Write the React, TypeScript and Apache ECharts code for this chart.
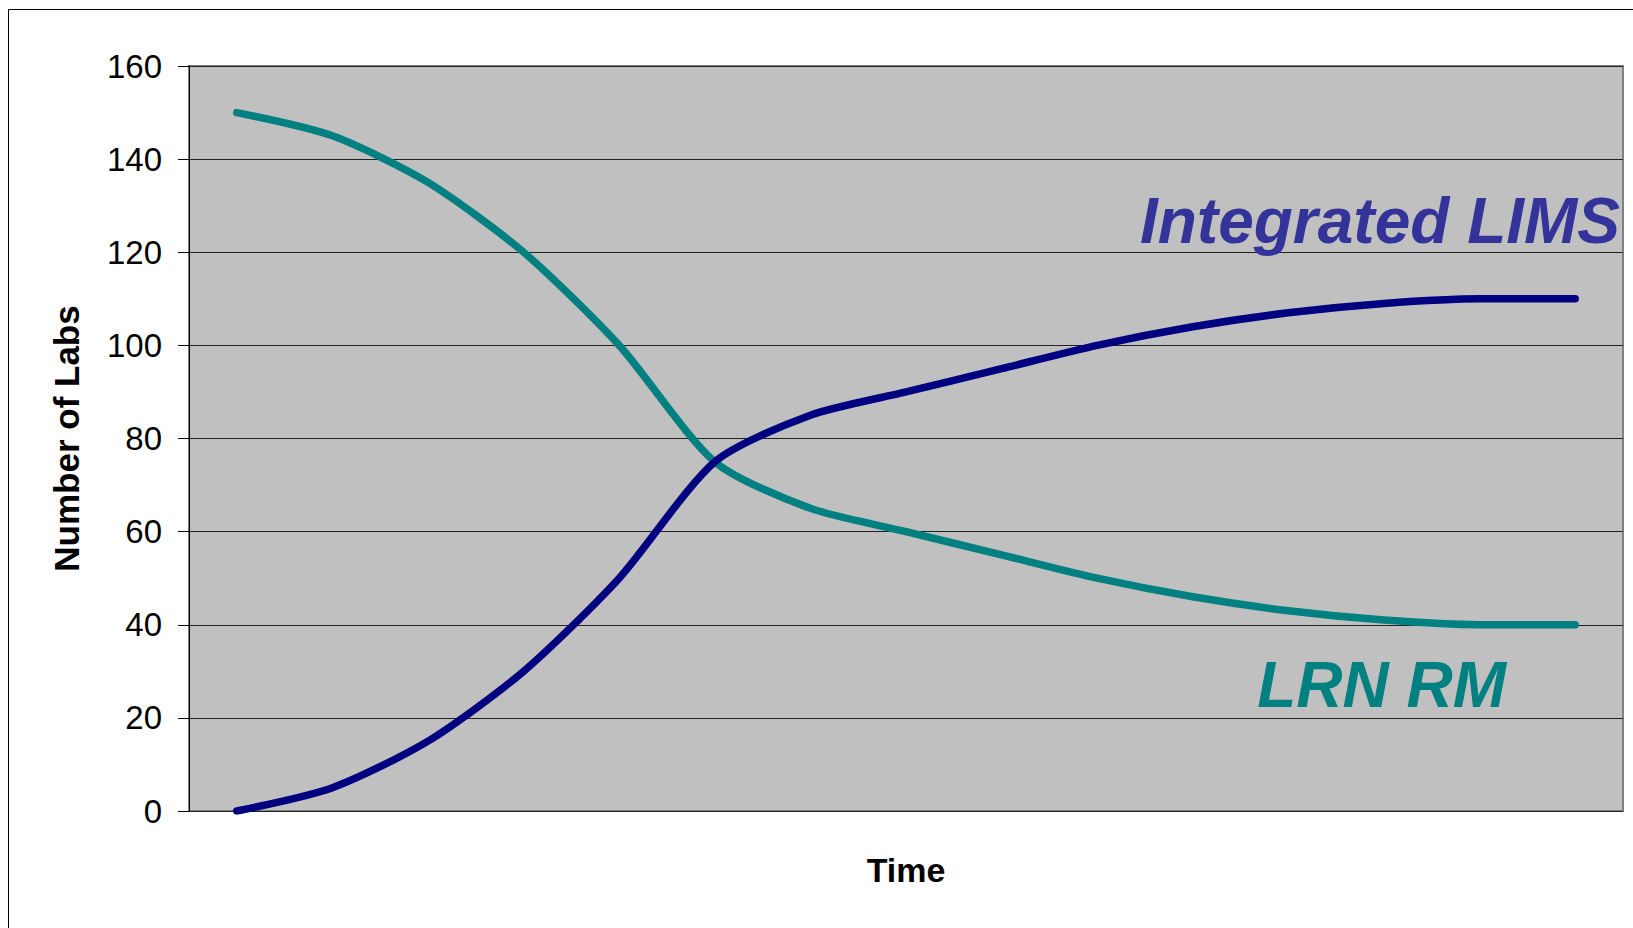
import React, { useEffect, useRef } from "react";
import * as echarts from "echarts";

const categories = ["T1", "T2", "T3", "T4", "T5", "T6", "T7", "T8", "T9", "T10", "T11", "T12", "T13", "T14", "T15"];
const integratedLims = [0, 5, 15, 30, 50, 75, 85, 90, 95, 100, 104, 107, 109, 110, 110];
const lrnRm = [150, 145, 135, 120, 100, 75, 65, 60, 55, 50, 46, 43, 41, 40, 40];
const yMin = 0;
const yMax = 160;
const yInterval = 20;

const FONT = "'Liberation Sans', Arial, sans-serif";

export default function App() {
  const ref = useRef<HTMLDivElement>(null);
  useEffect(() => {
    if (!ref.current) return;
    const chart = echarts.init(ref.current, null, { renderer: "svg" });
    chart.setOption({
      animation: false,
      backgroundColor: "#ffffff",
      grid: {
        left: 189,
        top: 66,
        right: 10,
        bottom: 117,
        show: true,
        backgroundColor: "#C0C0C0",
        borderColor: "#808080",
        borderWidth: 2,
      },
      xAxis: {
        type: "category",
        data: categories,
        boundaryGap: true,
        axisLine: { show: false },
        axisTick: { show: false },
        axisLabel: { show: false },
        splitLine: { show: false },
        name: "Time",
        nameLocation: "middle",
        nameGap: 42,
        nameTextStyle: { fontFamily: FONT, fontSize: 34, fontWeight: "bold", color: "#000" },
      },
      yAxis: {
        type: "value",
        min: yMin,
        max: yMax,
        interval: yInterval,
        axisLine: { show: true, lineStyle: { color: "#000", width: 1 } },
        axisTick: { show: true, length: 11, lineStyle: { color: "#000", width: 1 } },
        axisLabel: { fontFamily: FONT, fontSize: 33, color: "#000", margin: 27 },
        splitLine: { show: true, lineStyle: { color: "#222", width: 1 } },
        name: "Number of Labs",
        nameLocation: "middle",
        nameGap: 105,
        nameTextStyle: { fontFamily: FONT, fontSize: 35, fontWeight: "bold", color: "#000" },
      },
      series: [
        {
          name: "LRN RM",
          type: "line",
          data: lrnRm,
          smooth: 0.25,
          symbol: "none",
          lineStyle: { color: "#008080", width: 7.5, cap: "round", join: "round" },
        },
        {
          name: "Integrated LIMS",
          type: "line",
          data: integratedLims,
          smooth: 0.25,
          symbol: "none",
          lineStyle: { color: "#000080", width: 7.5, cap: "round", join: "round" },
        },
      ],
      graphic: [
        {
          type: "rect",
          silent: true,
          shape: { x: 8.5, y: 9.5, width: 1700, height: 1000 },
          style: { fill: "none", stroke: "#000", lineWidth: 1 },
          z: 100,
        },
        {
          type: "text",
          x: 1620,
          y: 221,
          style: {
            text: "Integrated LIMS",
            fontFamily: FONT,
            fontSize: 64,
            fontWeight: "bold",
            fontStyle: "italic",
            fill: "#333399",
            align: "right",
            verticalAlign: "middle",
          },
          z: 100,
        },
        {
          type: "text",
          x: 1506,
          y: 685,
          style: {
            text: "LRN RM",
            fontFamily: FONT,
            fontSize: 64,
            fontWeight: "bold",
            fontStyle: "italic",
            fill: "#008080",
            align: "right",
            verticalAlign: "middle",
          },
          z: 100,
        },
      ],
    });
    return () => chart.dispose();
  }, []);
  return (
    <div
      ref={ref}
      style={{ position: "fixed", left: 0, top: 0, width: "1633px", height: "928px", background: "#fff" }}
    />
  );
}
